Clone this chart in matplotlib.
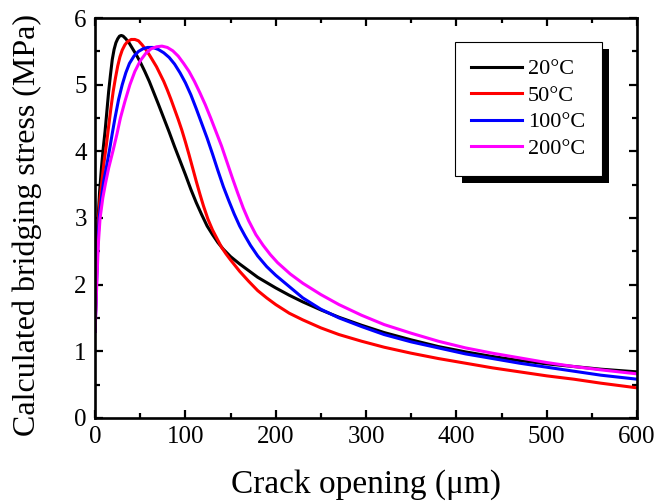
import matplotlib
matplotlib.use("Agg")
import matplotlib.pyplot as plt
from matplotlib.patches import Rectangle
from matplotlib.ticker import MultipleLocator

plt.rcParams['font.family'] = ['Liberation Serif', 'DejaVu Serif']

# curves: crack opening (um) vs bridging stress (MPa)
x_20 = [0, 1, 2, 3.3, 5, 7, 9, 11, 13, 15, 17, 19, 21, 23, 25, 27, 29, 31, 34, 38, 42, 46, 50,
        55, 60, 65, 70, 76, 82, 88, 94, 100, 106, 112, 118, 124, 130, 136, 142, 150, 160, 170,
        180, 190, 200, 215, 230, 250, 270, 295, 320, 350, 380, 410, 440, 470, 500, 530, 560, 600]
y_20 = [1.3, 2.0, 2.6, 3.0, 3.4, 3.75, 4.05, 4.3, 4.6, 4.9, 5.15, 5.38, 5.53, 5.63, 5.69, 5.73,
        5.74, 5.73, 5.69, 5.62, 5.53, 5.44, 5.34, 5.2, 5.05, 4.88, 4.71, 4.5, 4.29, 4.07, 3.86,
        3.65, 3.43, 3.23, 3.05, 2.88, 2.75, 2.63, 2.53, 2.42, 2.31, 2.21, 2.11, 2.03, 1.95, 1.84,
        1.74, 1.62, 1.51, 1.39, 1.28, 1.17, 1.07, 0.99, 0.92, 0.86, 0.81, 0.77, 0.73, 0.69]

x_50 = [0, 1.2, 2.5, 3.8, 5.5, 7.5, 10, 12.5, 15, 17.5, 20, 22.5, 25, 27.5, 30, 33, 36, 40, 44,
        48, 52, 56, 60, 64, 68, 72, 76, 80, 84, 88, 92, 96, 100, 104, 108, 112, 116, 120, 125,
        130, 135, 140, 145, 150, 160, 170, 180, 190, 200, 215, 230, 250, 270, 295, 320, 350,
        380, 410, 440, 470, 500, 530, 560, 600]
y_50 = [1.3, 2.0, 2.6, 3.0, 3.3, 3.55, 3.85, 4.1, 4.38, 4.65, 4.9, 5.1, 5.28, 5.42, 5.52, 5.6,
        5.65, 5.68, 5.68, 5.66, 5.6, 5.53, 5.45, 5.36, 5.27, 5.16, 5.05, 4.92, 4.78, 4.63, 4.48,
        4.32, 4.14, 3.95, 3.75, 3.55, 3.36, 3.18, 2.98, 2.82, 2.69, 2.56, 2.46, 2.37, 2.2, 2.05,
        1.91, 1.8, 1.7, 1.57, 1.47, 1.35, 1.25, 1.15, 1.06, 0.97, 0.89, 0.82, 0.75, 0.69, 0.63,
        0.58, 0.52, 0.45]

x_100 = [0, 1.5, 3, 4.5, 7, 9.5, 13, 16.3, 19, 22, 26, 30, 34, 38, 43, 48, 53, 58, 64, 70, 76,
         82, 88, 94, 100, 106, 112, 118, 124, 130, 136, 142, 148, 154, 160, 166, 172, 180, 190,
         200, 215, 230, 250, 270, 295, 320, 350, 380, 410, 440, 470, 500, 530, 560, 600]
y_100 = [1.3, 2.0, 2.6, 3.0, 3.3, 3.55, 3.8, 4.05, 4.27, 4.5, 4.78, 5.0, 5.18, 5.32, 5.43, 5.5,
         5.54, 5.56, 5.56, 5.53, 5.48, 5.41, 5.31, 5.18, 5.03, 4.85, 4.64, 4.42, 4.2, 3.96, 3.71,
         3.47, 3.26, 3.06, 2.88, 2.73, 2.59, 2.43, 2.27, 2.14, 1.97, 1.8, 1.63, 1.5, 1.37, 1.25,
         1.14, 1.05, 0.96, 0.89, 0.82, 0.76, 0.7, 0.64, 0.58]

x_200 = [0, 1.8, 3.5, 5.5, 8.5, 11.5, 15, 20, 24, 28, 33, 38.5, 44, 50, 56, 62, 68, 74, 80, 86,
         92, 98, 104, 110, 116, 122, 128, 134, 140, 146, 152, 158, 164, 170, 178, 186, 194, 202,
         216, 230, 250, 270, 295, 320, 350, 380, 410, 440, 470, 500, 530, 560, 600]
y_200 = [1.3, 2.0, 2.6, 3.0, 3.3, 3.52, 3.75, 4.02, 4.25, 4.5, 4.75, 5.0, 5.2, 5.36, 5.47, 5.54,
         5.57, 5.58, 5.56, 5.51, 5.43, 5.32, 5.2, 5.05, 4.88, 4.7, 4.5, 4.29, 4.08, 3.84, 3.6,
         3.37, 3.15, 2.96, 2.75, 2.59, 2.45, 2.33, 2.16, 2.02, 1.85, 1.7, 1.54, 1.4, 1.27, 1.15,
         1.05, 0.97, 0.9, 0.83, 0.77, 0.72, 0.66]

labels = ['20\u00b0C', '50\u00b0C', '100\u00b0C', '200\u00b0C']
colors = ['black', 'red', 'blue', 'magenta']

fig = plt.figure(figsize=(6.56, 5.04), dpi=100)
ax = fig.add_axes([0.145, 0.171, 0.826, 0.793])

for xs, ys, lab, c in zip([x_20, x_50, x_100, x_200], [y_20, y_50, y_100, y_200], labels, colors):
    ax.plot(xs, ys, color=c, lw=2.2, label=lab)

ax.set_xlim(0, 600)
ax.set_ylim(0, 6)
ax.xaxis.set_major_locator(MultipleLocator(100))
ax.xaxis.set_minor_locator(MultipleLocator(50))
ax.yaxis.set_major_locator(MultipleLocator(1))
ax.yaxis.set_minor_locator(MultipleLocator(0.5))
ax.tick_params(which='both', direction='in', top=True, right=True, width=1.6, labelsize=18)
ax.tick_params(which='major', length=6, pad=6)
ax.tick_params(which='minor', length=3.5)
for sp in ax.spines.values():
    sp.set_linewidth(1.9)

ax.set_xlabel('Crack opening (\u03bcm)', fontsize=24, labelpad=15)
ax.set_ylabel('Calculated bridging stress (MPa)', fontsize=23)
ax.yaxis.set_label_coords(-0.098, 0.482)

leg = ax.legend(loc='upper right', bbox_to_anchor=(0.935, 0.94), fontsize=16,
                fancybox=False, edgecolor='black', framealpha=1, handlelength=2.3,
                handletextpad=0.25, labelspacing=0.27, borderpad=0.75, borderaxespad=0)
leg.get_frame().set_linewidth(0.8)
leg.set_zorder(6)

# black drop shadow behind the legend box
fig.canvas.draw()
bb = leg.get_window_extent()
shadow = Rectangle((bb.x0 + 7, bb.y0 - 7), bb.width, bb.height, transform=None,
                   facecolor='black', edgecolor='none', zorder=5.5, clip_on=False)
ax.add_patch(shadow)

fig.savefig('out.png', dpi=100)
